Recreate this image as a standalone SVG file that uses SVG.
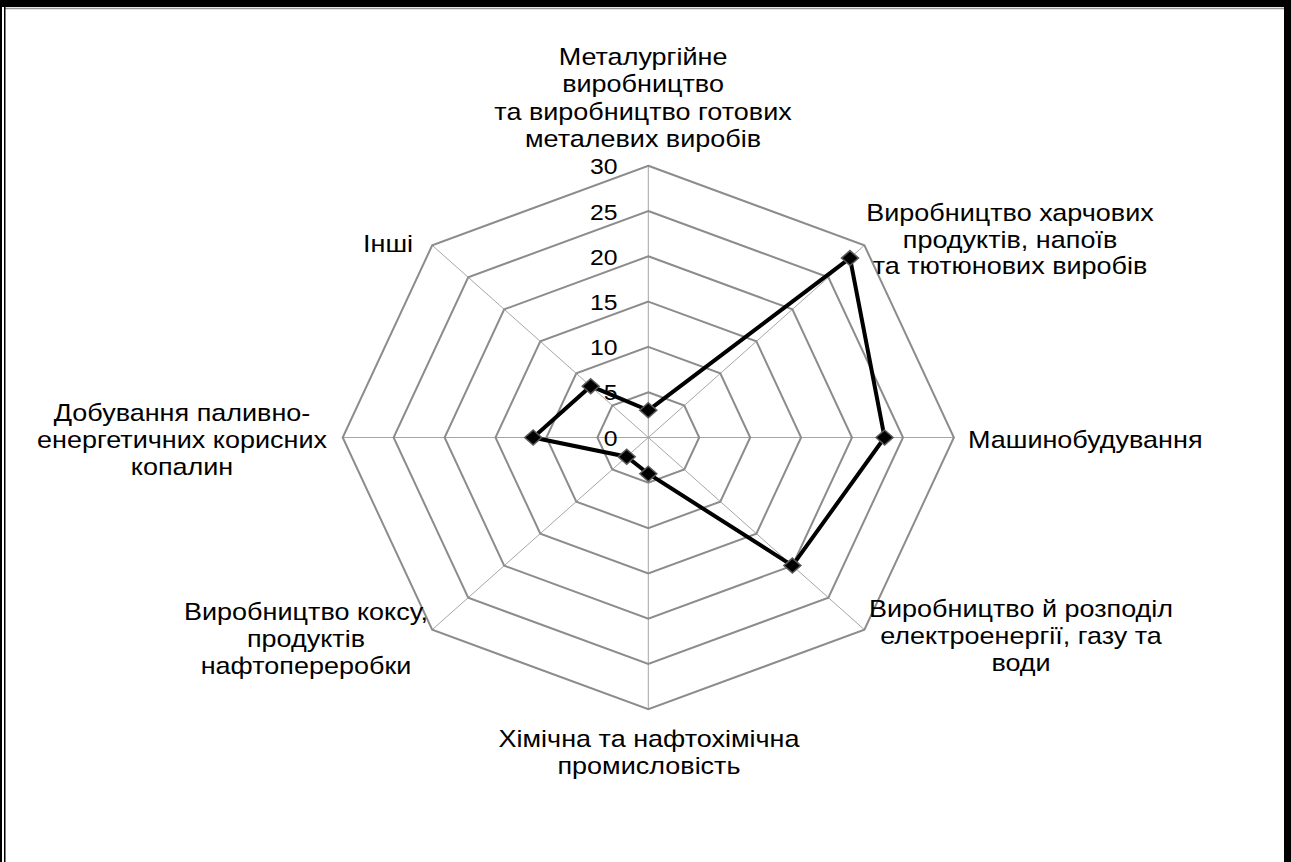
<svg xmlns="http://www.w3.org/2000/svg" width="1291" height="862" viewBox="0 0 1291 862">
  <style>
    .ring { fill: none; stroke: #8c8c8c; stroke-width: 2; }
    .spoke { stroke: #a6a6a6; stroke-width: 1; }
    .series { fill: none; stroke: #000; stroke-width: 4; stroke-linejoin: miter; }
    .lbl { font-family: "Liberation Sans", Arial, "Noto Sans", sans-serif; font-size: 24px; fill: #000; }
    .tick { font-family: "Liberation Sans", Arial, "Noto Sans", sans-serif; font-size: 22px; fill: #000; text-anchor: end; }
    .mid { text-anchor: middle; }
  </style>
  <defs>
    <path id="dm" d="M0,-7.5 L8.5,0 L0,7.5 L-8.5,0 Z" fill="#000" stroke="#5a5a5a" stroke-width="1.5"/>
  </defs>

  <rect width="1291" height="862" fill="#fff"/>

  <!-- frame -->
  <g id="frame">
    <rect x="0" y="0" width="1291" height="7" fill="#000"/>
    <line x1="5" y1="8.5" x2="1284" y2="8.5" stroke="#9a9a9a" stroke-width="1.5"/>
    <rect x="0" y="0" width="2" height="862" fill="#000"/>
    <rect x="4" y="7" width="1.5" height="855" fill="#000"/>
    <rect x="1284" y="0" width="7" height="862" fill="#000"/>
  </g>

  <!-- radar grid -->
  <g id="grid">
    <g id="spokes">
      <line class="spoke" x1="648.3" y1="437.5" x2="648.3" y2="165.7"/>
      <line class="spoke" x1="648.3" y1="437.5" x2="864.4" y2="245.3"/>
      <line class="spoke" x1="648.3" y1="437.5" x2="953.9" y2="437.5"/>
      <line class="spoke" x1="648.3" y1="437.5" x2="864.4" y2="629.7"/>
      <line class="spoke" x1="648.3" y1="437.5" x2="648.3" y2="709.3"/>
      <line class="spoke" x1="648.3" y1="437.5" x2="432.2" y2="629.7"/>
      <line class="spoke" x1="648.3" y1="437.5" x2="342.7" y2="437.5"/>
      <line class="spoke" x1="648.3" y1="437.5" x2="432.2" y2="245.3"/>
    </g>
    <polygon id="ring5" class="ring" points="648.3,392.2 684.3,405.5 699.2,437.5 684.3,469.5 648.3,482.8 612.3,469.5 597.4,437.5 612.3,405.5"/>
    <polygon id="ring10" class="ring" points="648.3,346.9 720.3,373.4 750.2,437.5 720.3,501.6 648.3,528.1 576.3,501.6 546.4,437.5 576.3,373.4"/>
    <polygon id="ring15" class="ring" points="648.3,301.6 756.4,341.4 801.1,437.5 756.4,533.6 648.3,573.4 540.3,533.6 495.5,437.5 540.3,341.4"/>
    <polygon id="ring20" class="ring" points="648.3,256.3 792.4,309.4 852.0,437.5 792.4,565.6 648.3,618.7 504.2,565.6 444.6,437.5 504.2,309.4"/>
    <polygon id="ring25" class="ring" points="648.3,211.0 828.4,277.3 903.0,437.5 828.4,597.7 648.3,664.0 468.2,597.7 393.6,437.5 468.2,277.3"/>
    <polygon id="ring30" class="ring" points="648.3,165.7 864.4,245.3 953.9,437.5 864.4,629.7 648.3,709.3 432.2,629.7 342.7,437.5 432.2,245.3"/>
  </g>

  <!-- text, drawn with the same horizontal stretch as the grid -->
  <g transform="scale(1.125 1)">
    <g id="ticks">
      <text class="tick" x="549" y="446">0</text>
      <text class="tick" x="549" y="400.5">5</text>
      <text class="tick" x="549" y="355.5">10</text>
      <text class="tick" x="549" y="310.5">15</text>
      <text class="tick" x="549" y="265">20</text>
      <text class="tick" x="549" y="220">25</text>
      <text class="tick" x="549" y="174.5">30</text>
    </g>

    <g id="cat-metal">
      <text class="lbl mid" x="571.6" y="65">Металургійне</text>
      <text class="lbl mid" x="571.6" y="92.5">виробництво</text>
      <text class="lbl mid" x="571.6" y="120">та виробництво готових</text>
      <text class="lbl mid" x="571.6" y="147.5">металевих виробів</text>
    </g>
    <g id="cat-food">
      <text class="lbl mid" x="897.8" y="221">Виробництво харчових</text>
      <text class="lbl mid" x="897.8" y="248">продуктів, напоїв</text>
      <text class="lbl mid" x="897.8" y="274.5">та тютюнових виробів</text>
    </g>
    <g id="cat-machine">
      <text class="lbl" x="860.4" y="448">Машинобудування</text>
    </g>
    <g id="cat-energy">
      <text class="lbl mid" x="907.6" y="617">Виробництво й розподіл</text>
      <text class="lbl mid" x="907.6" y="644.5">електроенергії, газу та</text>
      <text class="lbl mid" x="907.6" y="671">води</text>
    </g>
    <g id="cat-chem">
      <text class="lbl mid" x="576.9" y="747">Хімічна та нафтохімічна</text>
      <text class="lbl mid" x="576.9" y="774">промисловість</text>
    </g>
    <g id="cat-coke">
      <text class="lbl mid" x="272" y="620">Виробництво коксу,</text>
      <text class="lbl mid" x="272" y="647.5">продуктів</text>
      <text class="lbl mid" x="272" y="674.5">нафтопереробки</text>
    </g>
    <g id="cat-fuel">
      <text class="lbl mid" x="161.8" y="421">Добування паливно-</text>
      <text class="lbl mid" x="161.8" y="448">енергетичних корисних</text>
      <text class="lbl mid" x="161.8" y="475">копалин</text>
    </g>
    <g id="cat-other">
      <text class="lbl" x="322.7" y="252">Інші</text>
    </g>
  </g>

  <!-- data series -->
  <g id="connectors">
    <polygon class="series" points="648.3,410.3 850.0,258.1 884.6,437.5 792.4,565.6 648.3,473.7 626.7,456.7 533.2,437.5 590.7,386.2"/>
  </g>
  <g id="points">
    <use href="#dm" x="648.3" y="410.3"/>
    <use href="#dm" x="850.0" y="258.1"/>
    <use href="#dm" x="884.6" y="437.5"/>
    <use href="#dm" x="792.4" y="565.6"/>
    <use href="#dm" x="648.3" y="473.7"/>
    <use href="#dm" x="626.7" y="456.7"/>
    <use href="#dm" x="533.2" y="437.5"/>
    <use href="#dm" x="590.7" y="386.2"/>
  </g>
</svg>
